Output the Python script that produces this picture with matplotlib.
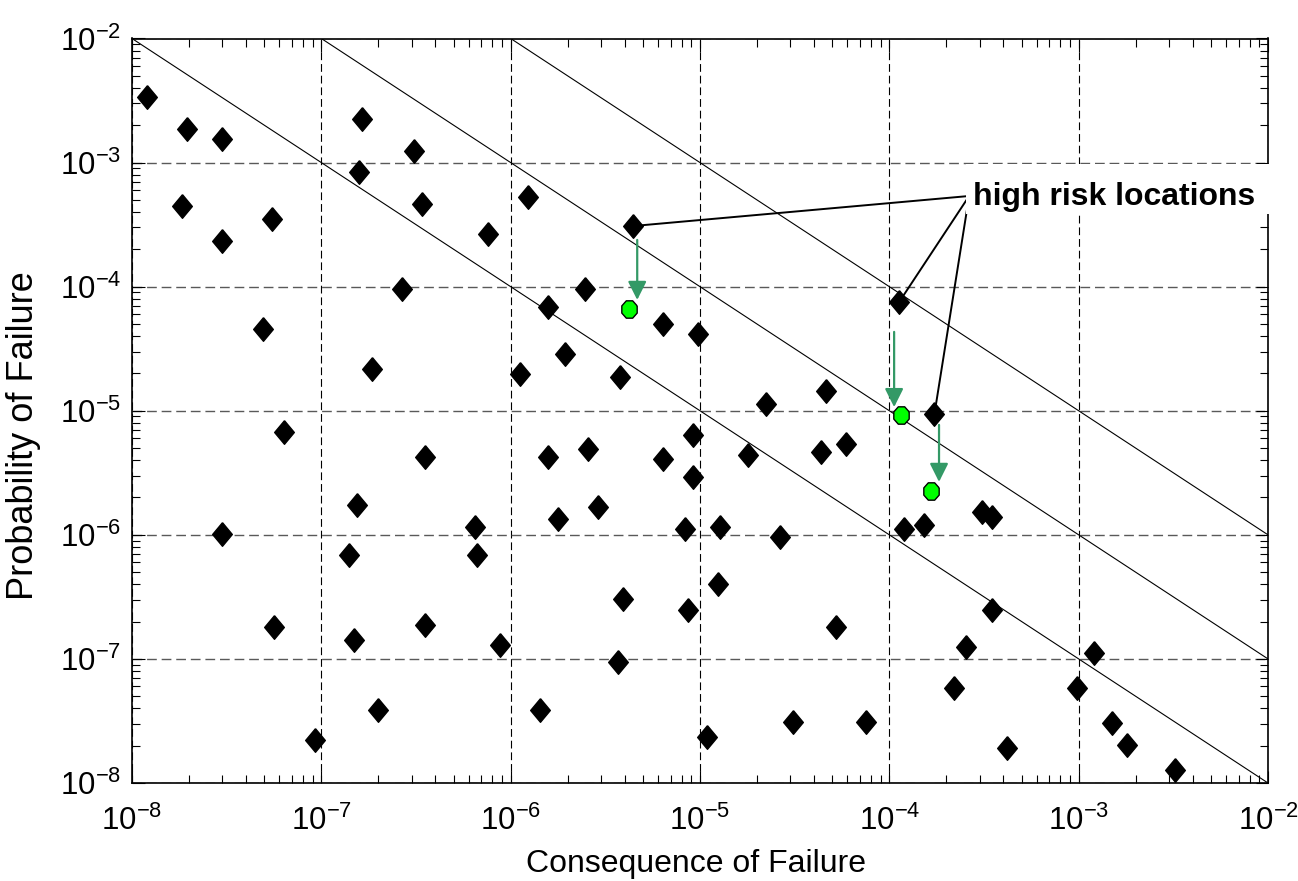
import numpy as np
import matplotlib
matplotlib.use('Agg')
import matplotlib.pyplot as plt
from matplotlib.patches import Rectangle

# consequence (x) and probability (y) of failure for each location
cof = [1.20e-8, 1.95e-8, 2.98e-8, 1.83e-8, 2.98e-8, 5.47e-8, 4.94e-8, 6.35e-8,
       1.63e-7, 1.58e-7, 3.10e-7, 3.42e-7, 2.68e-7, 1.86e-7, 3.53e-7, 1.55e-7,
       2.98e-8, 1.40e-7, 5.62e-8, 3.53e-7, 1.49e-7, 1.98e-7, 9.26e-8,
       1.23e-6, 7.57e-7, 2.47e-6, 1.57e-6, 6.38e-6, 9.77e-6, 1.94e-6, 1.12e-6,
       3.78e-6, 2.23e-5, 4.63e-5, 1.57e-6, 2.55e-6, 6.36e-6, 9.23e-6, 1.80e-5,
       9.23e-6, 2.88e-6, 1.77e-6, 6.49e-7, 6.67e-7, 8.34e-6, 1.28e-5, 2.65e-5,
       3.91e-6, 1.25e-5, 8.62e-6, 8.79e-7, 3.68e-6, 5.24e-5, 1.43e-6, 1.09e-5,
       3.11e-5, 7.54e-5, 4.37e-5, 5.92e-5, 1.20e-4, 1.53e-4, 3.08e-4, 3.48e-4,
       3.48e-4, 2.55e-4, 2.20e-4, 4.18e-4, 1.21e-3, 9.77e-4, 1.50e-3, 1.80e-3,
       3.21e-3]
pof = [3.40e-3, 1.87e-3, 1.55e-3, 4.47e-4, 2.32e-4, 3.51e-4, 4.56e-5, 6.75e-6,
       2.25e-3, 8.45e-4, 1.24e-3, 4.64e-4, 9.53e-5, 2.17e-5, 4.27e-6, 1.74e-6,
       1.01e-6, 6.89e-7, 1.80e-7, 1.88e-7, 1.42e-7, 3.88e-8, 2.22e-8,
       5.31e-4, 2.66e-4, 9.53e-5, 6.90e-5, 5.01e-5, 4.16e-5, 2.85e-5, 1.98e-5,
       1.88e-5, 1.13e-5, 1.43e-5, 4.27e-6, 4.90e-6, 4.07e-6, 6.38e-6, 4.40e-6,
       2.94e-6, 1.69e-6, 1.34e-6, 1.15e-6, 6.89e-7, 1.11e-6, 1.16e-6, 9.67e-7,
       3.03e-7, 4.00e-7, 2.48e-7, 1.30e-7, 9.40e-8, 1.80e-7, 3.88e-8, 2.34e-8,
       3.09e-8, 3.09e-8, 4.68e-6, 5.40e-6, 1.11e-6, 1.20e-6, 1.54e-6, 1.39e-6,
       2.48e-7, 1.24e-7, 5.87e-8, 1.93e-8, 1.12e-7, 5.87e-8, 3.07e-8, 2.03e-8,
       1.28e-8]

# high risk locations, before and after mitigation
high_cof = [4.42e-6, 1.13e-4, 1.73e-4]
high_pof = [3.08e-4, 7.57e-5, 9.38e-6]
new_cof = [4.24e-6, 1.15e-4, 1.66e-4]
new_pof = [6.58e-5, 9.25e-6, 2.27e-6]

# arrows (x, y start, y end)
arrow_x = [4.66e-6, 1.06e-4, 1.83e-4]
arrow_y0 = [2.38e-4, 4.32e-5, 7.69e-6]
arrow_y1 = [7.82e-5, 1.07e-5, 2.67e-6]

# iso-risk lines: cof * pof = const
risk_levels = [1e-10, 1e-9, 1e-8]
lims = [1e-8, 1e-2]

label_xy = (2.64e-4, 5.38e-4)
text_xy = (2.77e-4, 4.55e-4)

plt.rcParams['font.family'] = ['Liberation Sans', 'DejaVu Sans']
plt.rcParams['mathtext.default'] = 'regular'
plt.rcParams['axes.unicode_minus'] = False

fig = plt.figure(figsize=(12.98, 8.81), dpi=100)
ax = fig.add_axes([132/1298, 1 - 783/881, 1136/1298, 744.5/881])
ax.set_xscale('log')
ax.set_yscale('log')
ax.set_xlim(lims)
ax.set_ylim(lims)

diamond = [(0, 1.2), (1, 0), (0, -1.2), (-1, 0), (0, 1.2)]
t = np.linspace(0, 2*np.pi, 9) + np.pi/8
octagon = list(zip(np.cos(t), 1.13*np.sin(t)))

for c in risk_levels:
    ax.plot(lims, [c/lims[0], c/lims[1]], color='k', lw=0.8, zorder=2)

for hx, hy in zip(high_cof, high_pof):
    ax.annotate('', xy=(hx, hy), xytext=label_xy,
                arrowprops=dict(arrowstyle='-', color='k', lw=1.4, shrinkA=0, shrinkB=0),
                zorder=3)

for x, y0, y1 in zip(arrow_x, arrow_y0, arrow_y1):
    ax.annotate('', xy=(x, y1), xytext=(x, y0),
                arrowprops=dict(arrowstyle='-|>', color='#339966', lw=1.6,
                                mutation_scale=28, shrinkA=0, shrinkB=0),
                zorder=3)

ax.plot(cof, pof, ls='none', marker=diamond, ms=17, color='k', zorder=4)
ax.plot(high_cof, high_pof, ls='none', marker=diamond, ms=17, color='k', zorder=4)
ax.plot(new_cof, new_pof, ls='none', marker=octagon, ms=12.5, mfc='#00ff00',
        mec='k', mew=1.0, zorder=5)

dash = (0, (7, 3.5))
ax.xaxis.grid(True, which='major', color='k', ls=dash, lw=0.8)
ax.yaxis.grid(True, which='major', color='0.35', ls=dash, lw=1.0)
ax.tick_params(which='both', direction='in', top=True, right=True, width=0.8,
               labelsize=22.5)
ax.tick_params(axis='x', which='major', pad=16)
ax.tick_params(axis='y', which='major', pad=8)
ax.tick_params(which='major', length=9)
ax.tick_params(which='minor', length=5.5)
for s in ax.spines.values():
    s.set_linewidth(1.2)

ax.set_xlabel('Consequence of Failure', fontsize=23, va='top')
ax.xaxis.set_label_coords(0.4965, -0.088)
ax.set_ylabel('Probability of Failure', fontsize=26)
ax.yaxis.set_label_coords(-0.080, 0.467)

fig.add_artist(Rectangle((966/1298, 1 - 214/881), (1298 - 966)/1298, 50/881,
                         transform=fig.transFigure, fc='white', ec='none', zorder=5))
fig.text(text_xy[0], text_xy[1], 'high risk locations', transform=ax.transData,
         fontsize=23, fontweight='bold', ha='left', va='baseline', zorder=6)

fig.savefig('out.png', dpi=100)
